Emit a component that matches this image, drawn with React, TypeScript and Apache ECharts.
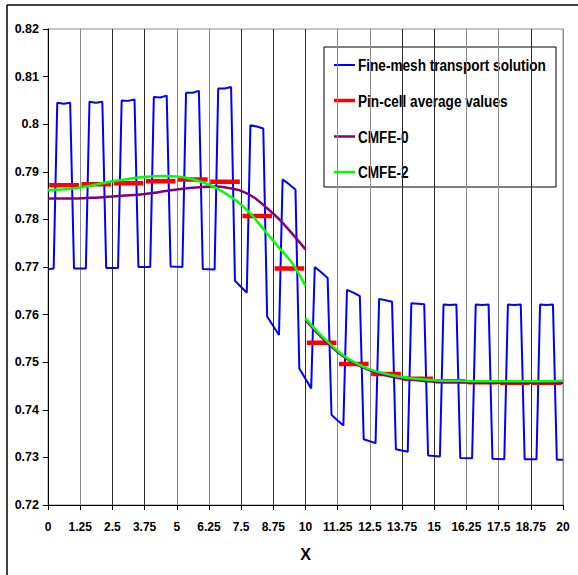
import React, { useEffect, useRef } from "react";
import * as echarts from "echarts";

// Geometry of the assembly row: 16 pin cells of pitch 1.25
const PITCH = 1.25;
const CELLS = 16;

// Fine-mesh flux inside a pin cell: x offsets (from the cell's left edge) of
// valley end, peak start, peak middle, peak end, next valley start
const profileX = [0.22, 0.36, 0.61, 0.86, 1.01];

// Valley (water gap) levels at each cell boundary, 17 boundaries from x=0 to x=20
const valleyStart = [0.7695, 0.7697, 0.7698, 0.7700, 0.7701, 0.7696, 0.7671, 0.7596, 0.7487, 0.7389, 0.7338, 0.7317, 0.7304, 0.7299, 0.7297, 0.7296, 0.7295];
const valleyEnd = [0.7697, 0.7697, 0.7698, 0.7700, 0.7700, 0.7695, 0.7646, 0.7557, 0.7445, 0.7367, 0.7330, 0.7312, 0.7302, 0.7298, 0.7296, 0.7296, 0.7295];

// Peak levels inside each pin cell
const peakStart = [0.8045, 0.8047, 0.8050, 0.8057, 0.8066, 0.8075, 0.7998, 0.7884, 0.7700, 0.7652, 0.7633, 0.7624, 0.7621, 0.7621, 0.7621, 0.7621];
const peakMid = [0.8043, 0.8045, 0.8049, 0.8056, 0.8066, 0.8075, 0.7995, 0.7874, 0.7689, 0.7646, 0.7630, 0.7623, 0.7620, 0.7620, 0.7620, 0.7620];
const peakEnd = [0.8045, 0.8047, 0.8052, 0.8060, 0.8070, 0.8078, 0.7991, 0.7863, 0.7677, 0.7639, 0.7627, 0.7622, 0.7621, 0.7621, 0.7621, 0.7621];

// Pin-cell average values
const pinAverage = [0.7872, 0.7874, 0.7876, 0.7880, 0.7884, 0.7879, 0.7807, 0.7697, 0.7541, 0.7496, 0.7475, 0.7465, 0.7460, 0.7458, 0.7457, 0.7457];
const pinDashInset = 0.05;

// CMFE reconstructions, sampled every 0.5 on each half (discontinuous at x=10)
const leftX = [0, 0.5, 1, 1.5, 2, 2.5, 3, 3.5, 4, 4.5, 5, 5.5, 6, 6.5, 7, 7.5, 8, 8.5, 9, 9.5, 10];
const rightX = [10, 10.5, 11, 11.5, 12, 12.5, 13, 13.5, 14, 14.5, 15, 15.5, 16, 16.5, 17, 17.5, 18, 18.5, 19, 19.5, 20];

const cmfe0Left = [0.7844, 0.7844, 0.7844, 0.7845, 0.7846, 0.7848, 0.7850, 0.7852, 0.7855, 0.7859, 0.7863, 0.7866, 0.7868, 0.7869, 0.7866, 0.7860, 0.7846, 0.7824, 0.7799, 0.7769, 0.7737];
const cmfe0Right = [0.7589, 0.7559, 0.7533, 0.7511, 0.7495, 0.7483, 0.7474, 0.7468, 0.7464, 0.7461, 0.7459, 0.7458, 0.7458, 0.7457, 0.7457, 0.7457, 0.7457, 0.7457, 0.7457, 0.7457, 0.7457];

const cmfe2Left = [0.7861, 0.7863, 0.7865, 0.7869, 0.7875, 0.7880, 0.7884, 0.7888, 0.7890, 0.7891, 0.7890, 0.7886, 0.7878, 0.7867, 0.7851, 0.7831, 0.7804, 0.7771, 0.7739, 0.7707, 0.7660];
const cmfe2Right = [0.7592, 0.7562, 0.7536, 0.7513, 0.7497, 0.7485, 0.7477, 0.7471, 0.7467, 0.7464, 0.7462, 0.7461, 0.7461, 0.7460, 0.7460, 0.7460, 0.7460, 0.7460, 0.7460, 0.7460, 0.7461];

// Axis ticks
const X_MIN = 0;
const X_MAX = 20;
const Y_MIN = 0.72;
const Y_MAX = 0.82;
const Y_STEP = 0.01;

const names = [
  "Fine-mesh transport solution",
  "Pin-cell average values",
  "CMFE-0",
  "CMFE-2",
];
const colors = ["#0000ff", "#ff0000", "#800080", "#00ff00"];
const legendIconWidths = [2, 3.5, 2.5, 2.5];

const FONT = "'Liberation Sans', Arial, sans-serif";

function fineMeshPoints(): number[][] {
  const pts: number[][] = [];
  for (let k = 0; k <= CELLS; k++) {
    const b = k * PITCH;
    pts.push([k === 0 ? X_MIN : b - PITCH + profileX[4], valleyStart[k]]);
    if (k === CELLS) {
      pts.push([X_MAX, valleyEnd[k]]);
      break;
    }
    pts.push([b + profileX[0], valleyEnd[k]]);
    pts.push([b + profileX[1], peakStart[k]]);
    pts.push([b + profileX[2], peakMid[k]]);
    pts.push([b + profileX[3], peakEnd[k]]);
  }
  return pts;
}

function pinAveragePoints(): (number | string)[][] {
  const pts: (number | string)[][] = [];
  pinAverage.forEach((v, k) => {
    const a = k * PITCH + pinDashInset;
    const b = (k + 1) * PITCH - pinDashInset;
    pts.push([a, v], [b, v], [b, "-"]);
  });
  return pts;
}

function curve(xs: number[], left: number[], xs2: number[], right: number[]) {
  const pts: (number | string)[][] = xs.map((x, i) => [x, left[i]]);
  pts.push([xs[xs.length - 1], "-"]);
  xs2.forEach((x, i) => pts.push([x, right[i]]));
  return pts;
}

const trim = (v: number) => String(Number(v.toFixed(2)));

const G = "#8c8c8c";
const D = "#2e2e2e";
const gridColors = [D, G, D, D, G, G, D, D, D, G, G, D, D, G, G, D, G];

// Boxed legend with condensed bold labels
function legendGraphic() {
  const boxX = 324;
  const boxY = 47;
  const rowY = [65, 100.5, 136.5, 172];
  const children: any[] = [
    {
      type: "rect",
      shape: { x: boxX, y: boxY, width: 232, height: 140 },
      style: { fill: "#ffffff", stroke: "#000000", lineWidth: 1 },
    },
  ];
  names.forEach((n, i) => {
    children.push({
      type: "line",
      shape: { x1: boxX + 10, y1: rowY[i], x2: boxX + 31, y2: rowY[i] },
      style: { stroke: colors[i], lineWidth: legendIconWidths[i] },
    });
    children.push({
      type: "text",
      x: boxX + 34,
      y: rowY[i],
      scaleX: 0.8,
      style: {
        text: n,
        fill: "#000000",
        font: `bold 17px ${FONT}`,
        textVerticalAlign: "middle",
        verticalAlign: "middle",
      },
    });
  });
  return { type: "group", z: 100, children };
}

export default function App() {
  const ref = useRef<HTMLDivElement>(null);

  useEffect(() => {
    if (!ref.current) return;
    const chart = echarts.init(ref.current, undefined, { renderer: "svg" });
    chart.setOption({
      animation: false,
      backgroundColor: "#ffffff",
      grid: {
        left: 48,
        right: 15,
        top: 29,
        bottom: 70,
        show: true,
        borderColor: G,
        borderWidth: 1,
      },
      xAxis: {
        type: "value",
        min: X_MIN,
        max: X_MAX,
        interval: PITCH,
        name: "X",
        nameLocation: "middle",
        nameGap: 41,
        nameTextStyle: {
          fontFamily: FONT,
          fontSize: 16,
          fontWeight: "bold",
          color: "#000000",
        },
        axisLine: { lineStyle: { color: "#000000", width: 1 } },
        axisTick: { show: true, length: 5, lineStyle: { color: "#000000" } },
        axisLabel: {
          formatter: trim,
          margin: 16,
          fontFamily: FONT,
          fontSize: 12,
          fontWeight: "bold",
          color: "#000000",
          showMinLabel: true,
          showMaxLabel: true,
        },
        splitLine: { show: true, lineStyle: { color: gridColors, width: 1 } },
      },
      yAxis: {
        type: "value",
        min: Y_MIN,
        max: Y_MAX,
        interval: Y_STEP,
        axisLine: { show: true, lineStyle: { color: "#000000", width: 1 } },
        axisTick: { show: true, length: 5, lineStyle: { color: "#000000" } },
        axisLabel: {
          formatter: trim,
          margin: 9,
          fontFamily: FONT,
          fontSize: 12.5,
          fontWeight: "bold",
          color: "#000000",
        },
        splitLine: { show: false },
      },
      series: [
        {
          name: names[0],
          type: "line",
          data: fineMeshPoints(),
          symbol: "none",
          lineStyle: { color: colors[0], width: 2 },
          itemStyle: { color: colors[0] },
          z: 2,
        },
        {
          name: names[1],
          type: "line",
          data: pinAveragePoints(),
          symbol: "none",
          connectNulls: false,
          lineStyle: { color: colors[1], width: 4.5, cap: "butt" },
          itemStyle: { color: colors[1] },
          z: 3,
        },
        {
          name: names[2],
          type: "line",
          data: curve(leftX, cmfe0Left, rightX, cmfe0Right),
          symbol: "none",
          smooth: 0.3,
          connectNulls: false,
          lineStyle: { color: colors[2], width: 2.5 },
          itemStyle: { color: colors[2] },
          z: 4,
        },
        {
          name: names[3],
          type: "line",
          data: curve(leftX, cmfe2Left, rightX, cmfe2Right),
          symbol: "none",
          smooth: 0.3,
          connectNulls: false,
          lineStyle: { color: colors[3], width: 2.5 },
          itemStyle: { color: colors[3] },
          z: 5,
        },
      ],
      graphic: [
        {
          type: "line",
          shape: { x1: 7, y1: 5, x2: 578, y2: 5 },
          style: { stroke: "#000000", lineWidth: 1.5 },
        },
        {
          type: "line",
          shape: { x1: 7, y1: 5, x2: 7, y2: 575 },
          style: { stroke: "#000000", lineWidth: 1.5 },
        },
        legendGraphic(),
      ],
    });
    return () => chart.dispose();
  }, []);

  return (
    <div
      ref={ref}
      style={{ position: "absolute", left: 0, top: 0, width: 578, height: 575 }}
    />
  );
}
